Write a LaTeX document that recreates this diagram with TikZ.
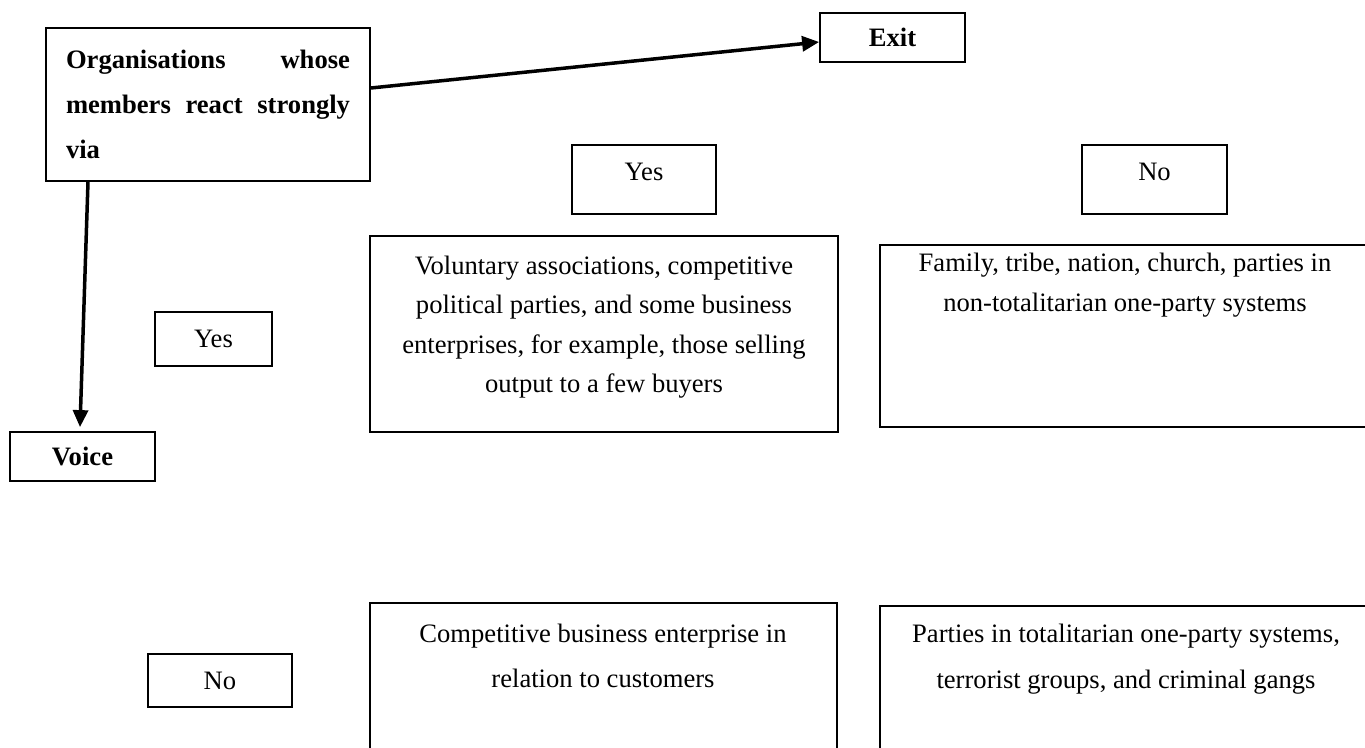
\documentclass[tikz,border=0pt]{standalone}
\usepackage{fontspec}
\setmainfont{Liberation Serif}
\usetikzlibrary{arrows.meta}
\tikzset{
  box/.style={draw, line width=1.8pt, inner sep=0pt, anchor=center},
  txt/.style={inner sep=0pt, align=center},
  conn/.style={line width=3.5pt, -{Triangle[length=17pt,width=15pt]}},
}
\begin{document}
\begin{tikzpicture}[x=1pt,y=-1pt]
\clip (0,0) rectangle (1365,747);
\fill[white] (0,0) rectangle (1365,747);
% top-left boxes
\node[box, minimum width=324pt, minimum height=153pt, align=left,
      font=\bfseries\fontsize{26.6}{45}\selectfont] (org) at (208,104.5)
  {\makebox[284pt][s]{Organisations whose}\\\makebox[284pt][s]{members react strongly}\\via};
\node[box, minimum width=145pt, minimum height=49pt,
      font=\bfseries\fontsize{26.6}{32}\selectfont] (exit) at (892.5,37.5) {Exit};
\node[box, minimum width=145pt, minimum height=49pt,
      font=\bfseries\fontsize{26.6}{32}\selectfont] (voice) at (82.5,456.5) {Voice};
% Yes / No headers
\node[box, minimum width=144pt, minimum height=69pt] (yes1) at (644,179.5) {};
\node[txt, font=\fontsize{26.6}{32}\selectfont] (yes1t) at (644,172) {Yes};
\node[box, minimum width=145pt, minimum height=69pt] (no1) at (1154.5,179.5) {};
\node[txt, font=\fontsize{26.6}{32}\selectfont] (no1t) at (1154.5,172) {No};
\node[box, minimum width=117pt, minimum height=54pt,
      font=\fontsize{26.6}{32}\selectfont] (yes2) at (213.5,339) {Yes};
\node[box, minimum width=144pt, minimum height=53pt,
      font=\fontsize{26.6}{32}\selectfont] (no2) at (220,680.5) {No};
% content boxes
\node[box, minimum width=468pt, minimum height=196pt] (b1) at (604,334) {};
\node[txt, font=\fontsize{26.6}{39.3}\selectfont] (b1t) at (604,327)
  {Voluntary associations, competitive\\political parties, and some business\\enterprises, for example, those selling\\output to a few buyers};
\node[box, minimum width=490pt, minimum height=182pt] (b2) at (1125,336) {};
\node[txt, font=\fontsize{26.6}{40}\selectfont] (b2t) at (1125,285)
  {Family, tribe, nation, church, parties in\\non-totalitarian one-party systems};
\node[box, minimum width=467pt, minimum height=247pt] (b3) at (603.5,726.5) {};
\node[txt, font=\fontsize{26.6}{45}\selectfont] (b3t) at (603,656)
  {Competitive business enterprise in\\relation to customers};
\node[box, minimum width=490pt, minimum height=244pt] (b4) at (1125,728) {};
\node[txt, font=\fontsize{26.6}{46}\selectfont] (b4t) at (1126,659)
  {Parties in totalitarian one-party systems,\\terrorist groups, and criminal gangs};
% connectors
\draw[conn] ([yshift=16.5pt]org.east) -- ([yshift=-4.5pt]exit.west);
\draw[conn] ([xshift=-120pt]org.south) -- ([xshift=-2.5pt,yshift=4pt]voice.north);
\end{tikzpicture}
\end{document}
